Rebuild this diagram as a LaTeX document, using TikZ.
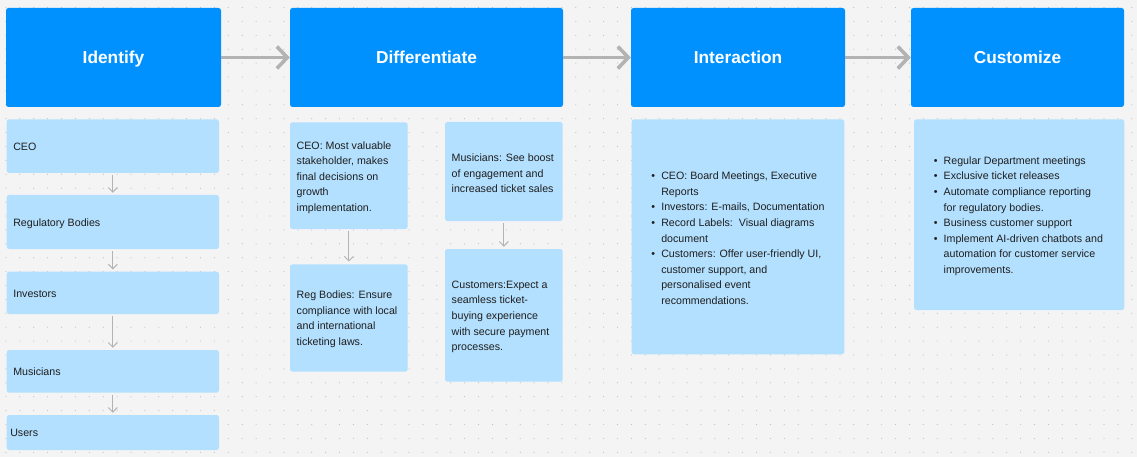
\documentclass[tikz,border=0pt]{standalone}
\usepackage{fontspec}
\setmainfont{Liberation Sans}
\usetikzlibrary{arrows.meta}
\definecolor{hdr}{HTML}{0091FF}
\definecolor{card}{HTML}{B3E0FF}
\definecolor{bg}{HTML}{F4F4F4}
\definecolor{dotc}{HTML}{C2C2C2}
\definecolor{arr}{HTML}{B3B3B3}
\definecolor{txt}{HTML}{1E1E1E}
\newcommand{\bul}{\llap{\textbullet\hspace{6.2pt}}}
\begin{document}
\begin{tikzpicture}[x=1pt,y=-1pt,
  header/.style={fill=hdr, rounded corners=2.5pt, text=white, inner sep=0pt,
    font=\fontsize{17.3}{20}\selectfont\bfseries, text height=12.4pt, text depth=0pt},
  cardbox/.style={fill=card, rounded corners=2.5pt, inner sep=0pt},
  body/.style={text=txt, font=\fontsize{10.65}{15.6}\selectfont, align=left, inner sep=0pt, anchor=west},
  single/.style={text=txt, font=\fontsize{10.65}{15.6}\selectfont, inner sep=0pt, anchor=west,
    text height=8.6pt, text depth=0pt},
  bigarrow/.style={draw=arr, line width=3.6pt, -{Straight Barb[length=10.5pt,width=22pt]}},
  smallarrow/.style={draw=arr, line width=1pt, -{Straight Barb[length=4.5pt,width=9pt]}}
]
\useasboundingbox (0,0) rectangle (1137,457);
\fill[bg] (0,0) rectangle (1137,457);
\foreach \i in {0,...,81} {
  \foreach \j in {0,...,32} {
    \fill[dotc] (5.9+\i*13.9, 7.5+\j*13.9) circle (0.6pt);
  }
}

% headers
\node[header, minimum width=215pt, minimum height=99pt] (h1) at (113.5,57.5) {Identify};
\node[header, minimum width=273pt, minimum height=99pt] (h2) at (426.5,57.5) {Differentiate};
\node[header, minimum width=214pt, minimum height=99pt] (h3) at (738,57.5) {Interaction};
\node[header, minimum width=213pt, minimum height=99pt] (h4) at (1017.5,57.5) {Customize};

\draw[bigarrow] (h1.east) -- (h2.west);
\draw[bigarrow] (h2.east) -- (h3.west);
\draw[bigarrow] (h3.east) -- (h4.west);

% Identify column
\node[cardbox, minimum width=212.3pt, minimum height=53.7pt] (a1) at (112.85,146.15) {};
\node[cardbox, minimum width=212.3pt, minimum height=54pt] (a2) at (112.85,222) {};
\node[cardbox, minimum width=212.3pt, minimum height=42.3pt] (a3) at (112.85,292.85) {};
\node[cardbox, minimum width=212.3pt, minimum height=42.7pt] (a4) at (112.85,371.35) {};
\node[cardbox, minimum width=212.3pt, minimum height=35pt] (a5) at (112.85,432.5) {};
\node[single] (a1t) at ([xshift=6.6pt]a1.west) {CEO};
\node[single] (a2t) at ([xshift=6.6pt]a2.west) {Regulatory Bodies};
\node[single] (a3t) at ([xshift=6.6pt]a3.west) {Investors};
\node[single] (a4t) at ([xshift=6.6pt]a4.west) {Musicians};
\node[single] (a5t) at ([xshift=3.6pt]a5.west) {Users};
\draw[smallarrow, shorten <=2pt, shorten >=2pt] (a1.south) -- (a2.north);
\draw[smallarrow, shorten <=2pt, shorten >=2pt] (a2.south) -- (a3.north);
\draw[smallarrow, shorten <=2pt, shorten >=2pt] (a3.south) -- (a4.north);
\draw[smallarrow, shorten <=2pt, shorten >=2pt] (a4.south) -- (a5.north);

% Differentiate column
\node[cardbox, minimum width=117.7pt, minimum height=106.7pt] (d1) at (348.85,175.65) {};
\node[cardbox, minimum width=117.7pt, minimum height=107.4pt] (d2) at (348.85,318) {};
\node[cardbox, minimum width=117.7pt, minimum height=99pt] (d3) at (503.85,171.5) {};
\node[cardbox, minimum width=117.7pt, minimum height=132.7pt] (d4) at (503.85,315.35) {};
\node[body] (d1t) at ([xshift=6.7pt,yshift=-1.8pt]d1.west) {CEO: Most valuable\\stakeholder, makes\\final decisions on\\growth\\implementation.};
\node[body] (d2t) at ([xshift=6.7pt,yshift=-1.4pt]d2.west) {Reg Bodies: Ensure\\compliance with local\\and international\\ticketing laws.};
\node[body] (d3t) at ([xshift=6.7pt,yshift=-1.8pt]d3.west) {Musicians: See boost\\of engagement and\\increased ticket sales};
\node[body] (d4t) at ([xshift=6.7pt,yshift=-1.5pt]d4.west) {Customers:Expect a\\seamless ticket-\\buying experience\\with secure payment\\processes.};
\draw[smallarrow, shorten <=2pt, shorten >=2.5pt] (d1.south) -- (d2.north);
\draw[smallarrow, shorten <=2pt, shorten >=2pt] (d3.south) -- (d4.north);

% Interaction
\node[cardbox, minimum width=212.6pt, minimum height=235pt] (i1) at (738,236.8) {};
\node[body] (i1t) at ([xshift=29.6pt,yshift=-1.5pt]i1.west) {\bul CEO: Board Meetings, Executive\\Reports\\\bul Investors: E-mails, Documentation\\\bul Record Labels:\ \ Visual diagrams\\document\\\bul Customers: Offer user-friendly UI,\\customer support, and\\personalised event\\recommendations.};

% Customize
\node[cardbox, minimum width=210.3pt, minimum height=190.7pt] (k1) at (1019.15,214.65) {};
\node[body] (k1t) at ([xshift=29.7pt,yshift=-1.5pt]k1.west) {\bul Regular Department meetings\\\bul Exclusive ticket releases\\\bul Automate compliance reporting\\for regulatory bodies.\\\bul Business customer support\\\bul Implement AI-driven chatbots and\\automation for customer service\\improvements.};
\end{tikzpicture}
\end{document}
